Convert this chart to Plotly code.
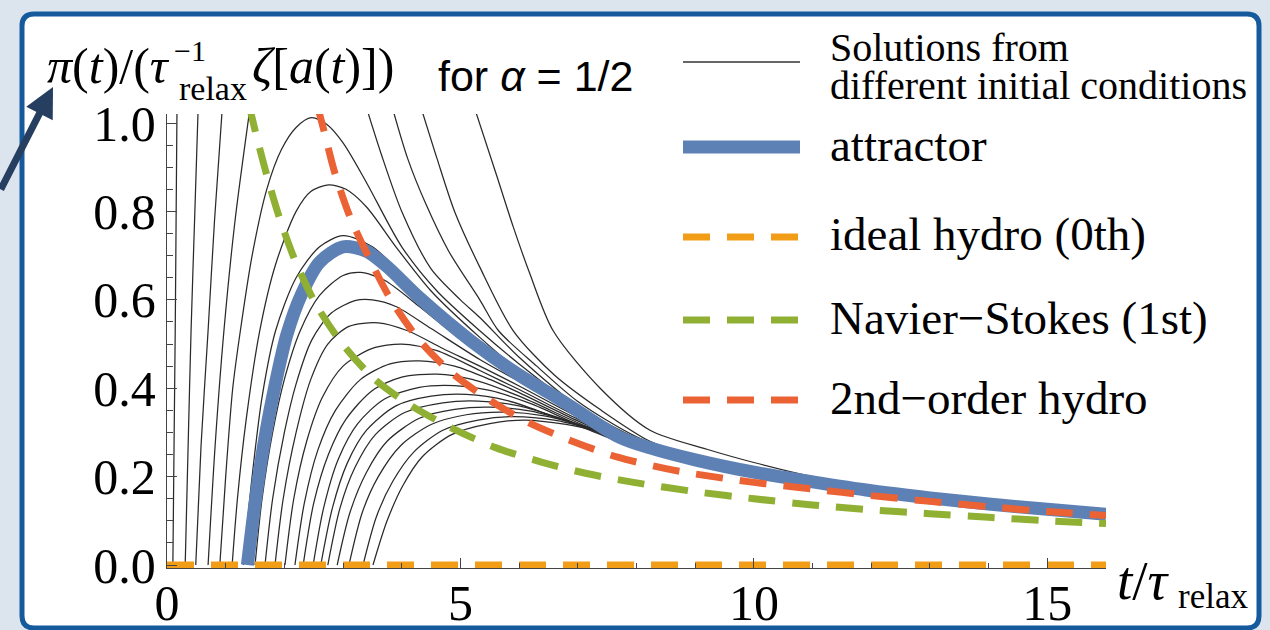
import plotly.graph_objects as go

# ---------------- data ----------------
# attractor (thick blue)
attractor_t = [1.37, 1.5, 1.64, 1.8, 2.04, 2.3, 2.6, 3.0, 3.4, 3.75, 4.3, 5.2, 6.0, 6.75, 7.7, 8.23, 9, 10, 11, 12, 13, 14, 15, 16]
attractor_y = [0.0, 0.14, 0.265, 0.38, 0.52, 0.615, 0.685, 0.72, 0.71, 0.675, 0.605, 0.505, 0.43, 0.37, 0.29, 0.265, 0.238, 0.21, 0.188, 0.168, 0.152, 0.138, 0.126, 0.115]

# ideal hydro (0th order)
ideal_t = [0, 16]
ideal_y = [0.0, 0.0]

# Navier-Stokes (1st order)
ns_t = [1.40, 1.52, 1.70, 1.93, 2.21, 2.55, 2.99, 3.54, 4.18, 4.88, 5.61, 6.38, 7.15, 7.95, 9, 10, 11, 12, 13, 14, 15, 16]
ns_y = [1.04, 0.973, 0.882, 0.78, 0.68, 0.587, 0.50, 0.42, 0.359, 0.308, 0.265, 0.233, 0.207, 0.187, 0.166, 0.15, 0.136, 0.125, 0.116, 0.108, 0.1, 0.094]

# 2nd-order hydro
second_t = [2.56, 2.66, 2.86, 3.12, 3.46, 3.83, 4.31, 4.86, 5.52, 6.18, 6.95, 7.68, 8.5, 9, 10, 11, 12, 13, 14, 15, 16]
second_y = [1.04, 0.99, 0.887, 0.787, 0.69, 0.597, 0.507, 0.434, 0.371, 0.321, 0.278, 0.244, 0.218, 0.206, 0.187, 0.172, 0.157, 0.144, 0.132, 0.121, 0.112]

# solutions from different initial conditions (thin black); None splits a curve
# where it leaves the top of the plot
sol_01 = [(0.10, 0), (0.12, 0.27), (0.14, 0.53), (0.155, 0.78), (0.17, 1.03), (None, None),
          (5.25, 1.03), (5.62, 0.88), (5.9, 0.765), (6.18, 0.66), (6.58, 0.53), (7.38, 0.40), (8.23, 0.305),
          (9.2, 0.262), (10, 0.232), (11, 0.2), (12, 0.176), (13, 0.158), (14, 0.142), (15, 0.129), (16, 0.118)]
sol_02 = [(0.31, 0), (0.36, 0.27), (0.41, 0.53), (0.47, 0.78), (0.53, 1.03), (None, None),
          (4.34, 1.03), (4.6, 0.92), (4.9, 0.8), (5.33, 0.674), (5.9, 0.53), (6.6, 0.43), (7.4, 0.35),
          (8.23, 0.28), (9, 0.245), (10, 0.214), (11, 0.19), (12, 0.17), (13, 0.153), (14, 0.139), (15, 0.127), (16, 0.116)]
sol_03 = [(0.49, 0), (0.58, 0.27), (0.70, 0.53), (0.81, 0.78), (0.94, 1.03), (None, None),
          (3.85, 1.03), (4.1, 0.92), (4.4, 0.82), (4.8, 0.71), (5.33, 0.60), (5.65, 0.53), (6.3, 0.45),
          (7, 0.37), (8, 0.29), (9, 0.241), (10, 0.211), (12, 0.168), (14, 0.138), (16, 0.115)]
sol_04 = [(0.70, 0), (0.82, 0.27), (0.97, 0.53), (1.16, 0.78), (1.41, 1.03), (None, None),
          (3.41, 1.03), (3.65, 0.93), (4.0, 0.8), (4.5, 0.67), (5.0, 0.6), (5.33, 0.56), (6, 0.47),
          (7, 0.36), (8, 0.287), (9, 0.239), (10, 0.21), (12, 0.168), (14, 0.138), (16, 0.115)]
sol_05 = [(0.90, 0), (1.0, 0.2), (1.12, 0.4), (1.25, 0.53), (1.45, 0.7), (1.7, 0.85), (1.95, 0.94),
          (2.2, 0.99), (2.46, 1.012), (2.72, 0.997), (3.0, 0.955), (3.4, 0.865), (4.0, 0.72), (4.6, 0.62),
          (5.33, 0.53), (6, 0.455), (7, 0.355), (8, 0.285), (9, 0.238), (10, 0.21), (12, 0.168),
          (14, 0.138), (16, 0.115)]
sol_06 = [(1.11, 0), (1.2, 0.15), (1.35, 0.33), (1.58, 0.53), (1.85, 0.68), (2.2, 0.8), (2.45, 0.845),
          (2.75, 0.86), (3.05, 0.85), (3.4, 0.81), (3.9, 0.72), (4.5, 0.62), (5.33, 0.515), (6, 0.44),
          (7, 0.35), (8, 0.283), (9, 0.238), (10, 0.21), (12, 0.168), (14, 0.138), (16, 0.115)]
sol_07 = [(1.30, 0), (1.45, 0.2), (1.62, 0.38), (1.85, 0.53), (2.2, 0.65), (2.6, 0.72), (3.0, 0.745),
          (3.5, 0.72), (4.3, 0.62), (5.33, 0.505), (6, 0.435), (7, 0.347), (8, 0.28), (9, 0.238),
          (10, 0.21), (12, 0.168), (14, 0.138), (16, 0.115)]
sol_08 = [(1.50, 0), (1.62, 0.15), (1.8, 0.3), (2.0, 0.42), (2.27, 0.53), (2.6, 0.61), (3.0, 0.655),
          (3.3, 0.662), (3.7, 0.645), (4.3, 0.585), (5.0, 0.51), (5.33, 0.48), (6, 0.422), (7, 0.343),
          (8, 0.279), (9, 0.236), (10, 0.209), (12, 0.167), (14, 0.137), (16, 0.114)]
sol_09 = [(1.67, 0), (1.8, 0.15), (2.0, 0.3), (2.2, 0.41), (2.47, 0.51), (2.8, 0.57), (3.2, 0.598),
          (3.5, 0.60), (3.9, 0.585), (4.5, 0.535), (5.33, 0.465), (6, 0.415), (7, 0.34), (8, 0.277),
          (9, 0.235), (10, 0.208), (12, 0.167), (14, 0.137), (16, 0.114)]
sol_10 = [(1.84, 0), (1.98, 0.15), (2.2, 0.3), (2.45, 0.42), (2.74, 0.5), (3.1, 0.54), (3.6, 0.548),
          (4.1, 0.53), (4.7, 0.49), (5.33, 0.45), (6, 0.405), (7, 0.335), (8, 0.275), (9, 0.235),
          (10, 0.208), (12, 0.167), (14, 0.137), (16, 0.114)]
sol_11 = [(2.01, 0), (2.16, 0.15), (2.38, 0.28), (2.65, 0.38), (3.0, 0.45), (3.5, 0.49), (4.0, 0.5),
          (4.6, 0.485), (5.33, 0.44), (6, 0.397), (7, 0.33), (8, 0.273), (9, 0.234), (10, 0.208),
          (12, 0.167), (14, 0.137), (16, 0.114)]
sol_12 = [(2.18, 0), (2.34, 0.14), (2.57, 0.26), (2.87, 0.35), (3.3, 0.42), (3.8, 0.455), (4.3, 0.462),
          (4.9, 0.45), (5.5, 0.42), (6, 0.39), (7, 0.326), (8, 0.27), (9, 0.234), (10, 0.208),
          (12, 0.167), (14, 0.137), (16, 0.114)]
sol_13 = [(2.32, 0), (2.5, 0.14), (2.75, 0.25), (3.05, 0.33), (3.5, 0.395), (4.0, 0.425), (4.6, 0.432),
          (5.2, 0.42), (6, 0.382), (7, 0.322), (8, 0.268), (9, 0.233), (10, 0.208), (12, 0.167),
          (14, 0.137), (16, 0.114)]
sol_14 = [(2.49, 0), (2.67, 0.13), (2.92, 0.24), (3.25, 0.32), (3.7, 0.375), (4.3, 0.402), (4.9, 0.406),
          (5.5, 0.395), (6.2, 0.365), (7, 0.318), (8, 0.266), (9, 0.233), (10, 0.208), (12, 0.167),
          (14, 0.137), (16, 0.114)]
sol_15 = [(2.62, 0), (2.82, 0.13), (3.07, 0.23), (3.4, 0.305), (3.9, 0.36), (4.5, 0.382), (5.1, 0.386),
          (5.8, 0.372), (6.5, 0.34), (7.2, 0.305), (8, 0.264), (9, 0.232), (10, 0.207), (12, 0.167),
          (14, 0.137), (16, 0.114)]
sol_16 = [(2.74, 0), (2.95, 0.13), (3.2, 0.22), (3.55, 0.295), (4.05, 0.345), (4.7, 0.367), (5.3, 0.371),
          (6, 0.36), (6.7, 0.332), (7.4, 0.298), (8.2, 0.26), (9, 0.232), (10, 0.207), (12, 0.167),
          (14, 0.137), (16, 0.114)]
sol_17 = [(2.90, 0), (3.12, 0.12), (3.4, 0.21), (3.75, 0.28), (4.3, 0.332), (4.9, 0.352), (5.5, 0.357),
          (6.2, 0.348), (6.9, 0.323), (7.6, 0.292), (8.3, 0.258), (9, 0.232), (10, 0.207), (12, 0.167),
          (14, 0.137), (16, 0.114)]
sol_18 = [(3.10, 0), (3.33, 0.12), (3.6, 0.2), (3.98, 0.27), (4.5, 0.318), (5.1, 0.34), (5.7, 0.346),
          (6.4, 0.338), (7.1, 0.315), (7.8, 0.286), (8.5, 0.254), (9.2, 0.229), (10, 0.207), (12, 0.167),
          (14, 0.137), (16, 0.114)]
sol_19 = [(3.34, 0), (3.57, 0.11), (3.85, 0.19), (4.2, 0.255), (4.7, 0.305), (5.3, 0.328), (5.9, 0.336),
          (6.6, 0.328), (7.3, 0.306), (8.0, 0.28), (8.7, 0.25), (9.4, 0.226), (10, 0.207), (12, 0.167),
          (14, 0.137), (16, 0.114)]
sol_20 = [(3.51, 0), (3.75, 0.1), (4.02, 0.18), (4.35, 0.245), (4.85, 0.295), (5.5, 0.32), (6.1, 0.328),
          (6.8, 0.318), (7.5, 0.298), (8.2, 0.272), (8.9, 0.246), (9.6, 0.222), (10.3, 0.203), (12, 0.167),
          (14, 0.137), (16, 0.114)]

solutions = [sol_01, sol_02, sol_03, sol_04, sol_05, sol_06, sol_07, sol_08, sol_09, sol_10,
             sol_11, sol_12, sol_13, sol_14, sol_15, sol_16, sol_17, sol_18, sol_19, sol_20]

x_ticks = [0, 5, 10, 15]
y_ticks = [0.0, 0.2, 0.4, 0.6, 0.8, 1.0]

legend_labels = ["Solutions from", "different initial conditions", "attractor",
                 "ideal hydro (0th)", "Navier\u2212Stokes (1st)", "2nd\u2212order hydro"]

# ---------------- styling ----------------
W, H = 1270, 630
L, R, T, B = 167, 164, 114, 62
PW, PH = W - L - R, H - T - B
SERIF = "Liberation Serif, Times New Roman, serif"
SANS = "Liberation Sans, Arial, sans-serif"
BLUE = "#5E81B5"
ORANGE = "#F29D18"
GREEN = "#8FB032"
RED = "#EB6235"
DASH = "27px,17px"

Y_MIN, Y_MAX = -0.0067, 1.0204


def P(px, py):
    """pixel position -> paper coordinates"""
    return (px - L) / PW, (H - B - py) / PH


fig = go.Figure()

for curve in solutions:
    fig.add_trace(go.Scatter(
        x=[p[0] for p in curve], y=[p[1] for p in curve], mode="lines",
        line=dict(color="#2a2a2a", width=1.25, shape="spline", smoothing=0.8),
        connectgaps=False, hoverinfo="skip", showlegend=False))

fig.add_trace(go.Scatter(x=attractor_t, y=attractor_y, mode="lines",
                         line=dict(color=BLUE, width=13, shape="spline", smoothing=0.8),
                         showlegend=False))
fig.add_trace(go.Scatter(x=ideal_t, y=ideal_y, mode="lines",
                         line=dict(color=ORANGE, width=7, dash=DASH), showlegend=False))
fig.add_trace(go.Scatter(x=ns_t, y=ns_y, mode="lines",
                         line=dict(color=GREEN, width=7, dash=DASH, shape="spline", smoothing=0.8),
                         showlegend=False))
fig.add_trace(go.Scatter(x=second_t, y=second_y, mode="lines",
                         line=dict(color=RED, width=7, dash=DASH, shape="spline", smoothing=0.8),
                         showlegend=False))

shapes = []
# white rounded frame with blue border
x0, y0 = P(22, 14)
x1, y1 = P(1259, 628)
rx = 12 / PW
ry = 12 / PH
path = (f"M {x0+rx},{y0} L {x1-rx},{y0} Q {x1},{y0} {x1},{y0-ry} "
        f"L {x1},{y1+ry} Q {x1},{y1} {x1-rx},{y1} L {x0+rx},{y1} Q {x0},{y1} {x0},{y1+ry} "
        f"L {x0},{y0-ry} Q {x0},{y0} {x0+rx},{y0} Z")
shapes.append(dict(type="path", path=path, xref="paper", yref="paper",
                   fillcolor="white", line=dict(color="#155A9C", width=5), layer="below"))

# legend samples
leg_x0, leg_x1 = 683, 800
for py, col, wid, dash in [(62, "#333333", 1.3, "solid"), (147, BLUE, 13, "solid"),
                           (237, ORANGE, 7, DASH), (320, GREEN, 7, DASH), (400, RED, 7, DASH)]:
    a, b = P(leg_x0, py)
    c, d = P(leg_x1, py)
    shapes.append(dict(type="line", xref="paper", yref="paper", x0=a, y0=b, x1=c, y1=d,
                       line=dict(color=col, width=wid, dash=dash)))

annotations = []


def text(px, py, s, size, font=SERIF, xanchor="left"):
    x, y = P(px, py)
    annotations.append(dict(x=x, y=y, xref="paper", yref="paper", text=s, showarrow=False,
                            xanchor=xanchor, yanchor="middle",
                            font=dict(family=font, size=size, color="black")))


# y-axis label
text(45, 66, "<i>\u03c0</i>(<i>t</i>)/(<i>\u03c4</i>", 50)
text(172, 51, "\u22121", 30)
text(177, 88, "relax", 34)
text(250, 66, "<i>\u03b6</i>[<i>a</i>(<i>t</i>)])", 50)
text(436, 76, "for <i>\u03b1</i> = 1/2", 43, font=SANS)

# x-axis label
text(1115, 580, "<i>t</i>/<i>\u03c4</i>", 55)
text(1176, 596, "relax", 35)

# legend texts
text(828, 48, legend_labels[0], 40)
text(828, 85, legend_labels[1], 40)
text(828, 145, legend_labels[2], 47)
text(828, 234, legend_labels[3], 47)
text(828, 318, legend_labels[4], 47)
text(828, 398, legend_labels[5], 47)

# arrow
ax_, ay_ = P(53, 87)
annotations.append(dict(x=ax_, y=ay_, xref="paper", yref="paper", text="", showarrow=True,
                        ax=-62, ay=104, arrowcolor="#263F61", arrowwidth=7, arrowhead=2,
                        arrowsize=0.85, standoff=0))

fig.update_layout(
    width=W, height=H,
    margin=dict(l=L, r=R, t=T, b=B, pad=0, autoexpand=False),
    paper_bgcolor="#DCE4ED",
    plot_bgcolor="rgba(0,0,0,0)",
    shapes=shapes, annotations=annotations,
    showlegend=False,
    xaxis=dict(range=[0, 16], tickvals=x_ticks, ticktext=[str(v) for v in x_ticks],
               automargin=False,
               showgrid=False, zeroline=False, showline=True, linecolor="#444", linewidth=1.3,
               ticks="inside", ticklen=10, tickwidth=1.2, tickcolor="#444",
               minor=dict(ticks="inside", ticklen=5, dtick=1, tickcolor="#444", tickwidth=1),
               tickfont=dict(family=SERIF, size=50, color="black"), ticklabelstandoff=-9),
    yaxis=dict(range=[Y_MIN, Y_MAX], tickvals=y_ticks, ticktext=[f"{v:.1f}" for v in y_ticks],
               automargin=False,
               showgrid=False, zeroline=False, showline=True, linecolor="#444", linewidth=1.3,
               ticks="inside", ticklen=10, tickwidth=1.2, tickcolor="#444",
               minor=dict(ticks="inside", ticklen=6, dtick=0.05, tickcolor="#444", tickwidth=1),
               tickfont=dict(family=SERIF, size=50, color="black"), ticklabelstandoff=0),
)

fig.write_html("out.html", config={"displayModeBar": False},
               post_script="document.body.style.margin='0';document.body.style.padding='0';")
